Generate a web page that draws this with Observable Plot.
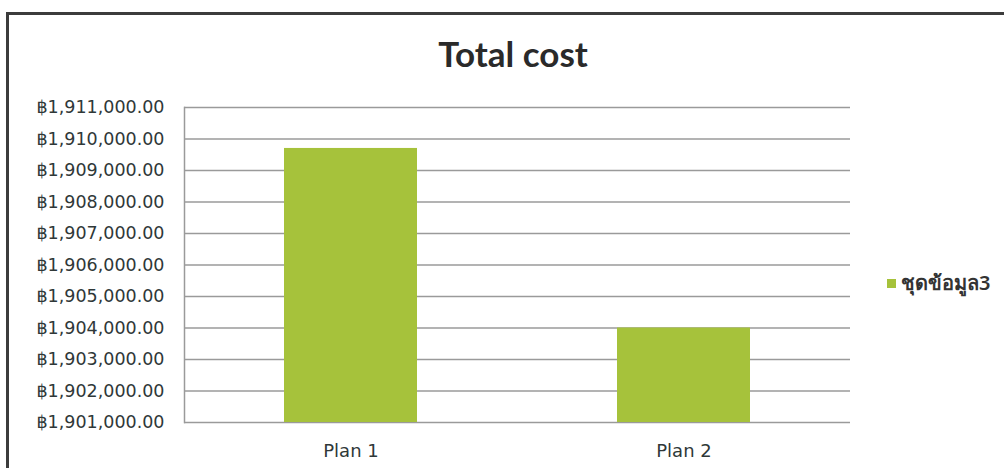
<!DOCTYPE html>
<html>
<head>
<meta charset="utf-8">
<script src="https://cdn.jsdelivr.net/npm/d3@7"></script>
<script src="https://cdn.jsdelivr.net/npm/@observablehq/plot@0.6"></script>
<style>
  html, body { margin: 0; padding: 0; background: #fff; }
  #wrap { position: relative; width: 1004px; height: 468px; overflow: hidden; background: #fff; }
  #border { position: absolute; left: 6px; top: 12px; width: 1100px; height: 600px;
            border-left: 3px solid #3c3c3c; border-top: 3px solid #3c3c3c; box-sizing: border-box; }
  #chart { position: absolute; left: 0; top: 0; }
  #title { position: absolute; left: 0; width: 1026px; top: 32px; text-align: center;
           font-family: Lato, "Open Sans", sans-serif; font-weight: 700; font-size: 35px; color: #2a2a2a; }
  #legend { position: absolute; left: 887px; top: 267px; font-family: "Noto Sans", "DejaVu Sans", sans-serif;
            font-size: 20px; font-weight: 600; color: #333; display: flex; align-items: center; gap: 5px; }
  #legend .sw { width: 9px; height: 9px; background: #a6c23b; display: inline-block; }
</style>
</head>
<body>
<div id="wrap">
  <div id="border"></div>
  <div id="chart"></div>
  <div id="title">Total cost</div>
  <div id="legend"><span class="sw"></span><span>ชุดข้อมูล3</span></div>
</div>
<script>
const categories = ["Plan 1", "Plan 2"];
const totalCost = [1909700, 1904000];
const yTicks = [1901000, 1902000, 1903000, 1904000, 1905000, 1906000, 1907000, 1908000, 1909000, 1910000, 1911000];
const seriesName = "ชุดข้อมูล3";

const data = categories.map((c, i) => ({plan: c, cost: totalCost[i], base: yTicks[0]}));
const fmt = d => "฿" + d3.format(",.2f")(d);

const chart = Plot.plot({
  width: 1004,
  height: 468,
  marginLeft: 184,
  marginRight: 154,
  marginTop: 107,
  marginBottom: 46,
  style: {fontFamily: "DejaVu Sans, Verdana, sans-serif", fontSize: "16px", color: "#2f3838", background: "transparent"},
  x: {domain: categories, paddingInner: 0.6, paddingOuter: 0.3, label: null},
  y: {domain: [yTicks[0], yTicks[yTicks.length - 1]], label: null},
  marks: [
    Plot.ruleY(yTicks, {stroke: "#9a9a9a", strokeWidth: 1.5}),
    Plot.frame({anchor: "left", stroke: "#9a9a9a", strokeWidth: 1.5}),
    Plot.barY(data, {x: "plan", y1: "base", y2: "cost", fill: "#a6c23b"}),
    Plot.axisY({ticks: yTicks, tickSize: 0, tickPadding: 20, tickFormat: fmt, fontSize: 17.5, label: null}),
    Plot.axisX({tickSize: 0, tickPadding: 22, fontSize: 18, label: null})
  ]
});
document.getElementById("chart").appendChild(chart);
</script>
</body>
</html>
